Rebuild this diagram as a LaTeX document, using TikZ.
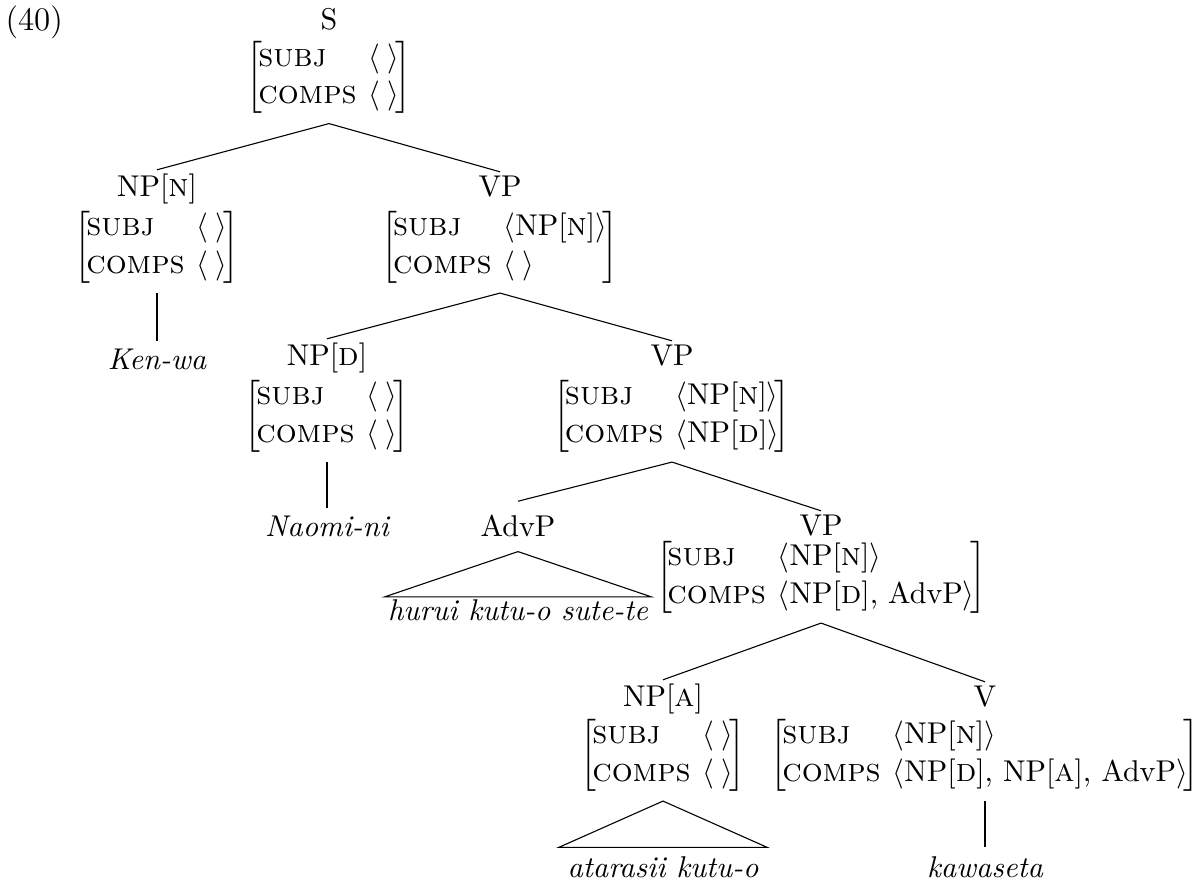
\documentclass[tikz,border=0pt,11pt]{standalone}
\usepackage{amsmath}

% small caps, a little larger
\newcommand{\smc}[1]{{\fontsize{12}{14}\selectfont\textsc{#1}}}
% feature structure with SUBJ and COMPS
\newcommand{\sclist}[2]{$\left[\begin{array}{@{\hspace{-.15em}}l@{\hspace{.4em}}l@{\hspace{-.15em}}}
  \smc{subj} & \langle\text{#1}\rangle\\
  \smc{comps} & \langle\text{#2}\rangle
\end{array}\right]$}
\newcommand{\emptylist}{\hspace{.25em}}
\newcommand{\np}[1]{NP[\smc{#1}]}

\begin{document}
\begin{tikzpicture}[x=0.1281mm,y=-0.1281mm,
    cat/.style={anchor=base,inner sep=1.5pt},
    fs/.style={inner xsep=1.5pt,inner ysep=3pt},
    word/.style={anchor=base,inner sep=3pt,font=\itshape}]
    \useasboundingbox (0,0) rectangle (1196,882);
    \node[anchor=base west,inner sep=0pt,font=\large] (ex) at (5,31) {(40)};

    % categories
    \node[cat] (s) at (329,30) {S};
    \node[cat] (npn) at (157,197) {\np{n}};
    \node[cat] (vp1) at (500,197) {VP};
    \node[cat] (npd) at (327,366) {\np{d}};
    \node[cat] (vp2) at (672,366) {VP};
    \node[cat,inner ysep=5pt] (advp) at (518,537) {AdvP};
    \node[cat] (vp3) at (821,536) {VP};
    \node[cat] (npa) at (663,707) {\np{a}};
    \node[cat] (v) at (985,707) {V};

    % feature structures
    \node[fs] (sfs) at (329,77.5) {\sclist{\emptylist}{\emptylist}};
    \node[fs] (npnfs) at (157,247) {\sclist{\emptylist}{\emptylist}};
    \node[fs] (vp1fs) at (500,247) {\sclist{\np{n}}{\emptylist}};
    \node[fs] (npdfs) at (327,416) {\sclist{\emptylist}{\emptylist}};
    \node[fs] (vp2fs) at (672,416) {\sclist{\np{n}}{\np{d}}};
    \node[fs] (vp3fs) at (821,577) {\sclist{\np{n}}{\np{d}, AdvP}};
    \node[fs] (npafs) at (663,755) {\sclist{\emptylist}{\emptylist}};
    \node[fs] (vfs) at (985,755) {\sclist{\np{n}}{\np{d}, \np{a}, AdvP}};

    % words
    \node[word] (kenwa) at (157,370) {Ken-wa};
    \node[word] (naomi) at (327,537) {Naomi-ni};
    \node[word,inner sep=1pt] (hurui) at (518,621) {hurui kutu-o sute-te};
    \node[word] (atarasii) at (663,877) {atarasii kutu-o};
    \node[word] (kawaseta) at (985,877) {kawaseta};

    % branches
    \draw (sfs.south) -- (npn.north);
    \draw (sfs.south) -- (vp1.north);
    \draw (npnfs.south) -- (kenwa.north);
    \draw (vp1fs.south) -- (npd.north);
    \draw (vp1fs.south) -- (vp2.north);
    \draw (npdfs.south) -- (naomi.north);
    \draw (vp2fs.south) -- (advp.north);
    \draw (vp2fs.south) -- (vp3.north);
    \draw (advp.south) -- (hurui.north west) -- (hurui.north east) -- cycle;
    \draw (vp3fs.south) -- (npa.north);
    \draw (vp3fs.south) -- (v.north);
    \draw (npafs.south) -- (atarasii.north west) -- (atarasii.north east) -- cycle;
    \draw (vfs.south) -- (kawaseta.north);
\end{tikzpicture}
\end{document}
